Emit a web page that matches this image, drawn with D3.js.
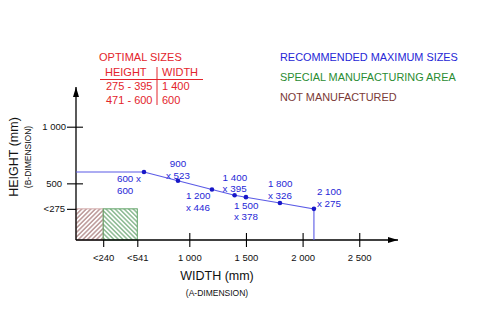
<!DOCTYPE html>
<html>
<head>
<meta charset="utf-8">
<script src="https://cdn.jsdelivr.net/npm/d3@7"></script>
<style>
  html, body { margin: 0; padding: 0; background: #fff; }
  svg { display: block; font-family: Arial, "Liberation Sans", sans-serif; }
</style>
</head>
<body>
<svg id="chart" width="500" height="328"></svg>
<script>
// Recommended maximum size curve (width x height, mm)
const widths  = [600, 900, 1200, 1400, 1500, 1800, 2100];
const heights = [600, 523, 446, 395, 378, 326, 275];
// Label placement relative to each point: dx, dy of first line, anchor
const labelPos = [
  [-27, 7, "start"],
  [0, -17, "middle"],
  [-26, 6, "start"],
  [-12, -18, "start"],
  [-12, 8, "start"],
  [-12, -19, "start"],
  [3, -17, "start"]
];

const xTicks = [240, 541, 1000, 1500, 2000, 2500];
const xTickPrefix = ["<", "<", "", "", "", ""];
const yTicks = [275, 500, 1000];
const yTickPrefix = ["<", "", ""];

// Zones along the bottom
const notManufacturedMax = 240;
const specialMax = 541;
const zoneHeight = 275;

// Optimal sizes table
const optHeights = ["275 - 395", "471 - 600"];
const optWidths = ["1 400", "600"];

const legendItems = ["RECOMMENDED MAXIMUM SIZES", "SPECIAL MANUFACTURING AREA", "NOT MANUFACTURED"];
const legendColors = ["#2626d6", "#2a8c32", "#7b3a36"];

const svg = d3.select("#chart");
const k = 0.1133;
const x = d3.scaleLinear().domain([0, 2500]).range([76, 76 + 2500 * k]);
const y = d3.scaleLinear().domain([0, 1000]).range([240, 240 - 1000 * k]);

const fmt = d3.formatLocale({ decimal: ".", thousands: " ", grouping: [3], currency: ["", ""] }).format(",d");

// Hatch patterns
const defs = svg.append("defs");
function hatch(id, color, dir) {
  const p = defs.append("pattern").attr("id", id).attr("patternUnits", "userSpaceOnUse")
    .attr("width", 3.2).attr("height", 4)
    .attr("patternTransform", `rotate(${dir})`);
  p.append("line").attr("x1", 0.8).attr("y1", 0).attr("x2", 0.8).attr("y2", 4)
    .attr("stroke", color).attr("stroke-width", 0.9);
}
hatch("hatchBrown", "#8c5452", 45);
hatch("hatchGreen", "#3f8d4a", -45);

svg.append("rect")
  .attr("x", x(0)).attr("y", y(zoneHeight))
  .attr("width", x(notManufacturedMax) - x(0)).attr("height", y(0) - y(zoneHeight))
  .attr("fill", "url(#hatchBrown)").attr("stroke", "#d2aaaa").attr("stroke-width", 1);
svg.append("rect")
  .attr("x", x(notManufacturedMax)).attr("y", y(zoneHeight))
  .attr("width", x(specialMax) - x(notManufacturedMax)).attr("height", y(0) - y(zoneHeight))
  .attr("fill", "url(#hatchGreen)").attr("stroke", "#5fa266").attr("stroke-width", 1);

// Arrow markers
defs.append("marker").attr("id", "arrow").attr("viewBox", "0 0 10 6")
  .attr("refX", 10).attr("refY", 3).attr("markerWidth", 12).attr("markerHeight", 6)
  .attr("markerUnits", "userSpaceOnUse").attr("orient", "auto")
  .append("path").attr("d", "M0,0 L10,3 L0,6 Z").attr("fill", "#000");

// X axis
const xAxis = d3.axisBottom(x).tickValues(xTicks).tickSize(0)
  .tickFormat((d, i) => xTickPrefix[i] + fmt(d));
const gx = svg.append("g").attr("transform", `translate(0,${y(0)})`).call(xAxis);
gx.select(".domain").remove();
gx.selectAll(".tick line").attr("stroke", "#000").attr("stroke-width", 1.1)
  .attr("y1", (d, i) => i < 2 ? 0 : -7).attr("y2", 7);
gx.selectAll(".tick text").attr("y", 14).attr("dy", "0.71em")
  .attr("font-size", 9.5).attr("fill", "#111").attr("font-family", "Arial, 'Liberation Sans', sans-serif");

// Y axis
const yAxis = d3.axisLeft(y).tickValues(yTicks).tickSize(0)
  .tickFormat((d, i) => yTickPrefix[i] + fmt(d));
const gy = svg.append("g").attr("transform", `translate(${x(0)},0)`).call(yAxis);
gy.select(".domain").remove();
gy.selectAll(".tick line").attr("stroke", "#000").attr("stroke-width", 1.1)
  .attr("x1", -9).attr("x2", (d, i) => i === 0 ? 0 : 7);
gy.selectAll(".tick text").attr("x", (d, i) => [-11, -14, -10][i])
  .attr("font-size", 9.5).attr("fill", "#111").attr("font-family", "Arial, 'Liberation Sans', sans-serif");

svg.append("line").attr("x1", x(0)).attr("y1", y(0)).attr("x2", 398).attr("y2", y(0))
  .attr("stroke", "#000").attr("stroke-width", 1.3).attr("marker-end", "url(#arrow)");
svg.append("line").attr("x1", x(0)).attr("y1", y(0)).attr("x2", x(0)).attr("y2", 87)
  .attr("stroke", "#000").attr("stroke-width", 1.3).attr("marker-end", "url(#arrow)");

// Max size curve: flat to the first point, through the points, down to the axis
const pts = widths.map((w, i) => [w, heights[i]]);
const curve = [[0, heights[0]], ...pts, [widths[widths.length - 1], 0]];
svg.append("path")
  .attr("d", d3.line().x(d => x(d[0])).y(d => y(d[1]))(curve))
  .attr("fill", "none").attr("stroke", "#5a5ae6").attr("stroke-width", 1.1);

svg.selectAll("circle.pt").data(pts).join("circle")
  .attr("class", "pt").attr("cx", d => x(d[0])).attr("cy", d => y(d[1])).attr("r", 2.3)
  .attr("fill", "#1818c8");

const lbl = svg.append("g").attr("fill", "#2626d6").attr("font-size", 9.8);
pts.forEach((d, i) => {
  const [dx, dy, anchor] = labelPos[i];
  const t = lbl.append("text").attr("text-anchor", anchor)
    .attr("x", x(d[0]) + dx).attr("y", y(d[1]) + dy);
  const first = i === 0 ? fmt(d[0]) + " x" : fmt(d[0]);
  const second = i === 0 ? fmt(d[1]) : "x " + fmt(d[1]);
  t.append("tspan").attr("x", x(d[0]) + dx).attr("dy", "0.35em").text(first);
  t.append("tspan").attr("x", x(d[0]) + dx).attr("dy", "1.2em").text(second);
});

// Axis titles
svg.append("text").attr("x", 217).attr("y", 280).attr("text-anchor", "middle")
  .attr("font-size", 12.5).attr("fill", "#111").text("WIDTH (mm)");
svg.append("text").attr("x", 217).attr("y", 296).attr("text-anchor", "middle")
  .attr("font-size", 8.5).attr("fill", "#111").text("(A-DIMENSION)");
svg.append("text").attr("transform", "translate(18,157) rotate(-90)").attr("text-anchor", "middle")
  .attr("font-size", 12.5).attr("fill", "#111").text("HEIGHT (mm)");
svg.append("text").attr("transform", "translate(31,157) rotate(-90)").attr("text-anchor", "middle")
  .attr("font-size", 8.5).attr("fill", "#111").text("(B-DIMENSION)");

// Optimal sizes table
const red = "#e3242b";
const tbl = svg.append("g").attr("fill", red).attr("font-size", 11);
tbl.append("text").attr("x", 99).attr("y", 61).text("OPTIMAL SIZES");
tbl.append("text").attr("x", 105).attr("y", 76).text("HEIGHT");
tbl.append("text").attr("x", 162).attr("y", 76).text("WIDTH");
optHeights.forEach((h, i) => {
  tbl.append("text").attr("x", 106).attr("y", 90 + i * 14).text(h);
  tbl.append("text").attr("x", 162).attr("y", 90 + i * 14).text(optWidths[i]);
});
svg.append("line").attr("x1", 100).attr("x2", 203).attr("y1", 79.5).attr("y2", 79.5)
  .attr("stroke", red).attr("stroke-width", 1);
svg.append("line").attr("x1", 157).attr("x2", 157).attr("y1", 67).attr("y2", 105)
  .attr("stroke", red).attr("stroke-width", 1);

// Legend
svg.append("g").selectAll("text").data(legendItems).join("text")
  .attr("x", 280).attr("y", (d, i) => 61 + i * 20)
  .attr("font-size", 10.9).attr("fill", (d, i) => legendColors[i]).text(d => d);
</script>
</body>
</html>
